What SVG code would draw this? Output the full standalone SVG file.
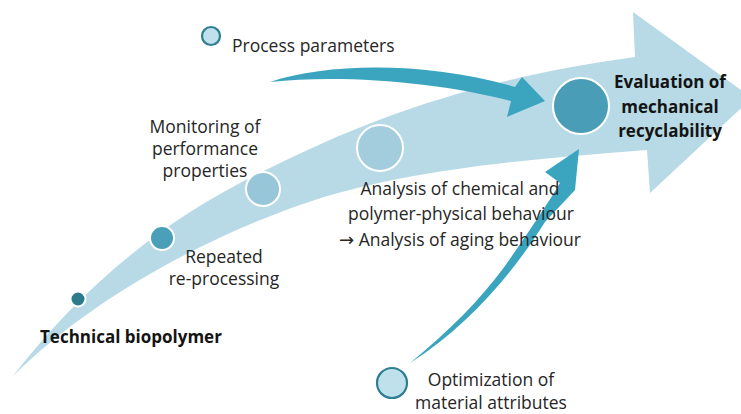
<svg xmlns="http://www.w3.org/2000/svg" width="741" height="414" viewBox="0 0 741 414">
  <style>
    .t { font-family: "Open Sans", "Liberation Sans", sans-serif; font-size: 17.5px; fill: #262626; }
    .b { font-family: "Open Sans", "Liberation Sans", sans-serif; font-size: 17px; font-weight: bold; fill: #141414; }
    .mid { text-anchor: middle; }
    .sym { font-family: "DejaVu Sans", sans-serif; font-size: 18px; }
    .step { stroke: #ffffff; stroke-width: 2; }
    .side { stroke: #2f7f91; stroke-width: 2.2; fill: #bfe1eb; }
    .flow { fill: #3ba5c0; }
  </style>
  <rect width="741" height="414" fill="#ffffff"/>

  <!-- main curved progress arrow -->
  <g id="main-arrow">
    <path fill="#b7dae6" d="M13,376 C80,290 160,220 270,168 C370,118 480,78 635,57 L633,12 L752,98 L650,193 L647,150 C520,160 400,170 300,205 C200,240 90,300 13,376 Z"/>
  </g>

  <!-- feeding arrows -->
  <g id="connectors">
    <path class="flow" d="M270,82 C330,62 430,62 515,87 L522,77 L545,101 L507,117 L511,101 C440,82 340,74 270,82 Z"/>
    <path class="flow" d="M410,363 C470,325 515,270 545,222 L575,190 L579,149 L545,172 L560,183 C545,208 530,230 505,266 C480,300 450,330 410,363 Z"/>
  </g>

  <g id="step-biopolymer">
    <circle class="step" cx="78" cy="299" r="7.5" fill="#2b7b8d"/>
    <text class="b" x="40" y="343" font-size="18.5">Technical biopolymer</text>
  </g>

  <g id="step-reprocessing">
    <circle class="step" cx="162" cy="238" r="12" fill="#4aa0b8"/>
    <text class="t mid" x="224" y="263">Repeated</text>
    <text class="t mid" x="224" y="285">re-processing</text>
  </g>

  <g id="step-monitoring">
    <circle class="step" cx="263" cy="189" r="17" fill="#96c6d7"/>
    <text class="t mid" x="205" y="133">Monitoring of</text>
    <text class="t mid" x="205" y="155">performance</text>
    <text class="t mid" x="205" y="177">properties</text>
  </g>

  <g id="step-analysis">
    <circle class="step" cx="380" cy="148" r="23" fill="#a3cddc"/>
    <text class="t mid" x="460" y="195">Analysis of chemical and</text>
    <text class="t mid" x="461" y="220">polymer-physical behaviour</text>
    <text class="t mid" x="460" y="246"><tspan class="sym">→</tspan> Analysis of aging behaviour</text>
  </g>

  <g id="step-evaluation">
    <circle class="step" cx="581" cy="106" r="28" fill="#4a9db6" stroke-width="2.5"/>
    <text class="b mid" x="670" y="88">Evaluation of</text>
    <text class="b mid" x="670" y="113">mechanical</text>
    <text class="b mid" x="670" y="137">recyclability</text>
  </g>

  <g id="input-process">
    <circle class="side" cx="211" cy="36" r="9"/>
    <text class="t" x="232" y="52">Process parameters</text>
  </g>

  <g id="input-material">
    <circle class="side" cx="392" cy="383" r="15"/>
    <text class="t mid" x="491" y="386" font-size="17">Optimization of</text>
    <text class="t mid" x="491" y="409" font-size="17">material attributes</text>
  </g>
</svg>
